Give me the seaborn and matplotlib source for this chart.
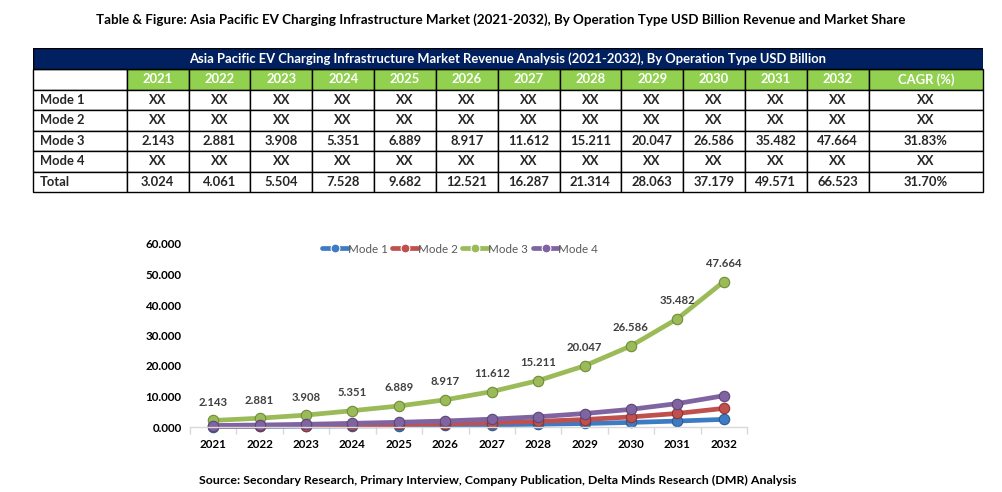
import numpy as np
import pandas as pd
import matplotlib
matplotlib.use("Agg")
import matplotlib.pyplot as plt
import seaborn as sns
from matplotlib.patches import Rectangle

# data
years = ["2021", "2022", "2023", "2024", "2025", "2026", "2027", "2028", "2029", "2030", "2031", "2032"]
modes = ["Mode 1", "Mode 2", "Mode 3", "Mode 4"]
mode1 = [0.15, 0.20, 0.27, 0.35, 0.42, 0.55, 0.70, 0.90, 1.15, 1.50, 1.95, 2.50]
mode2 = [0.25, 0.33, 0.45, 0.62, 0.83, 1.08, 1.40, 1.85, 2.45, 3.30, 4.45, 6.10]
mode3 = [2.143, 2.881, 3.908, 5.351, 6.889, 8.917, 11.612, 15.211, 20.047, 26.586, 35.482, 47.664]
mode4 = [0.481, 0.650, 0.876, 1.207, 1.543, 1.974, 2.575, 3.353, 4.416, 5.793, 7.689, 10.259]
total = [3.024, 4.061, 5.504, 7.528, 9.682, 12.521, 16.287, 21.314, 28.063, 37.179, 49.571, 66.523]
cagr_mode3 = "31.83%"
cagr_total = "31.70%"

colors = ["#3D7CC4", "#C0504D", "#9BBB59", "#8064A2"]
edge_colors = ["#2A5A92", "#8E3432", "#6F8C3A", "#5B4679"]

sns.set_theme(style="white")
plt.rcParams["font.family"] = ["Lato", "DejaVu Sans"]

W, H = 1002, 492
fig = plt.figure(figsize=(W / 100, H / 100), dpi=100)
fig.patch.set_facecolor("white")

fig.text(0.5, 1 - 20 / H, "Table & Figure: Asia Pacific EV Charging Infrastructure Market (2021-2032), By Operation Type USD Billion Revenue and Market Share",
         ha="center", va="center", fontsize=9.6, fontweight="bold", color="black")

# ---- table ----
tl, tr, tt, tb = 33, 983, 47.7, 192.3
tax = fig.add_axes([tl / W, 1 - tb / H, (tr - tl) / W, (tb - tt) / H])
tax.set_xlim(0, tr - tl)
tax.set_ylim(tb - tt, 0)
tax.axis("off")

head_h = 69 - tt
tax.add_patch(Rectangle((0, 0), tr - tl, head_h, facecolor="#002060", edgecolor="black", lw=1))
tax.text((tr - tl) / 2, head_h / 2 + 0.5, "Asia Pacific EV Charging Infrastructure Market Revenue Analysis (2021-2032), By Operation Type USD Billion",
         ha="center", va="center", color="white", fontsize=9.4, fontweight="bold")

header = [""] + years + ["CAGR (%)"]
rows = [header]
for m in modes:
    if m == "Mode 3":
        rows.append([m] + [f"{v:.3f}" for v in mode3] + [cagr_mode3])
    else:
        rows.append([m] + ["XX"] * len(years) + ["XX"])
rows.append(["Total"] + [f"{v:.3f}" for v in total] + [cagr_total])

col_w = [93.7] + [61.75] * len(years) + [114.3]
body_h = (tb - tt) - head_h
tbl = tax.table(cellText=rows, colWidths=[c / sum(col_w) for c in col_w],
                bbox=[0, 0, 1, body_h / (tb - tt)], cellLoc="center")
tbl.auto_set_font_size(False)
for (r, c), cell in tbl.get_celld().items():
    cell.set_edgecolor("black")
    cell.set_linewidth(1)
    txt = cell.get_text()
    txt.set_fontsize(9.4)
    txt.set_fontweight("bold")
    if r == 0 and c > 0:
        cell.set_facecolor("#92D050")
        txt.set_color("white")
    if c == 0:
        txt.set_ha("left")
        cell.PAD = 0.07

# ---- chart ----
df = pd.DataFrame({
    "pos": list(range(len(years))) * 4,
    "Value": mode1 + mode2 + mode3 + mode4,
    "Mode": sum([[m] * len(years) for m in modes], []),
})

ax = fig.add_axes([190 / W, 1 - 427 / H, (747 - 190) / W, (427 - 244) / H])
sns.lineplot(data=df, x="pos", y="Value", hue="Mode", palette=colors, marker="o",
             markersize=7.5, linewidth=3.4, ax=ax, clip_on=False)
for line, ec in zip(ax.lines, edge_colors):
    line.set_markeredgecolor(ec)
    line.set_markeredgewidth(0.8)
    line.set_solid_capstyle("round")

for i, v in enumerate(mode3):
    ax.annotate(f"{v:.3f}", (i, v), xytext=(0, 13), textcoords="offset points",
                ha="center", va="center", fontsize=8.2, fontweight="bold", color="#404040")

ax.set_xlim(-0.5, len(years) - 0.5)
ax.set_ylim(0, 60)
ax.set_yticks(np.arange(0, 61, 10))
ax.set_yticklabels([f"{v:.3f}" for v in np.arange(0, 61, 10)], fontsize=8.4, fontweight="bold", color="black")
ax.set_xticks(range(len(years)))
ax.set_xticklabels(years, fontsize=8.4, fontweight="bold", color="black")
ax.set_xticks(np.arange(-0.5, len(years), 1), minor=True)
ax.tick_params(axis="x", which="major", length=0, pad=9)
ax.tick_params(axis="x", which="minor", length=5, color="#D9D9D9", width=1, bottom=True)
ax.tick_params(axis="y", length=0, pad=6)
ax.set_xlabel("")
ax.set_ylabel("")
for s in ["top", "right", "left"]:
    ax.spines[s].set_visible(False)
ax.spines["bottom"].set_color("#D9D9D9")
ax.spines["bottom"].set_linewidth(1)

leg = ax.legend(loc="upper center", bbox_to_anchor=(0.485, 1.06), ncol=4, frameon=False,
                fontsize=8.4, handlelength=2.2, columnspacing=0.4, handletextpad=0.0,
                markerscale=0.85)
for t in leg.get_texts():
    t.set_color("#595959")

fig.text(0.497, 1 - 480 / H, "Source: Secondary Research, Primary Interview, Company Publication, Delta Minds Research (DMR) Analysis",
         ha="center", va="center", fontsize=8.9, fontweight="bold", color="black")

fig.savefig("out.png", dpi=100)
